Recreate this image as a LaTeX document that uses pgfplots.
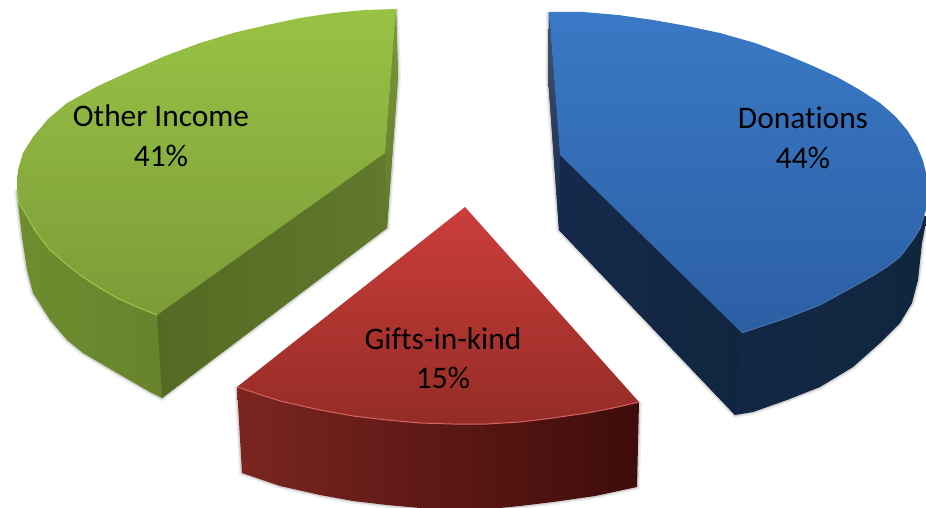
\documentclass[border=0pt]{standalone}
\usepackage{fontspec}
\setmainfont{Carlito}[Ligatures={NoCommon}]
\usepackage{pgfplots}
\usepackage{pgfplotstable}
\pgfplotsset{compat=1.18}

% outlines, in pixels
\pgfplotstableread{
x y
549 12
583 12
618 15
653 20
687 26
720 33
755 43
787 55
813 66
837 77
860 90
880 103
895 116
907 130
917 146
923 161
927 177
927 195
926 210
920 229
913 240
900 257
887 267
871 277
853 287
820 305
787 318
742 333
560 155
}\bluetop
\pgfplotstableread{
x y
549 12
548 77
559 230
735 415
753 412
787 400
820 387
853 367
880 343
900 323
912 303
918 280
922 243
927 217
}\blueside
\pgfplotstableread{
x y
560 155
742 333
735 415
559 230
}\blueinner
\pgfplotstableread{
x y
549 12
548 77
559 230
560 155
}\bluestrip
\pgfplotstableread{
x y
926 210
920 229
913 240
900 257
887 267
871 277
853 287
820 305
787 318
742 333
}\bluefront

\pgfplotstableread{
x y
396 9
365 10
333 13
300 18
267 25
233 33
200 43
165 56
133 70
98 86
67 103
48 119
33 137
23 153
18 170
17 190
19 203
25 213
36 232
50 250
66 264
83 277
100 288
117 298
137 307
157 315
385 153
}\greentop
\pgfplotstableread{
x y
396 9
398 77
387 228
162 398
150 392
117 373
83 353
67 340
50 320
33 293
27 270
22 237
18 203
17 190
}\greenside
\pgfplotstableread{
x y
385 153
157 315
162 398
387 228
}\greeninner
\pgfplotstableread{
x y
396 9
398 77
387 228
385 153
}\greenstrip
\pgfplotstableread{
x y
17 190
19 203
25 213
36 232
50 250
66 264
83 277
100 288
117 298
137 307
157 315
}\greenfront

\pgfplotstableread{
x y
465 207
639 402
613 408
587 413
553 418
520 422
487 424
453 424
420 423
387 420
353 416
320 410
280 401
237 387
}\redtop
\pgfplotstableread{
x y
237 387
242 473
280 486
320 495
353 501
387 505
420 508
453 510
490 509
520 506
553 502
595 496
637 487
639 402
}\redside
\pgfplotstableread{
x y
639 402
613 408
587 413
553 418
520 422
487 424
453 424
420 423
387 420
353 416
320 410
280 401
237 387
}\redfront

\definecolor{bluetopa}{HTML}{3A79C6}
\definecolor{bluetopb}{HTML}{2C5FA4}
\definecolor{bluesidea}{HTML}{16294B}
\definecolor{bluesideb}{HTML}{10263F}
\definecolor{greentopa}{HTML}{98C345}
\definecolor{greentopb}{HTML}{7B9B38}
\definecolor{greensidea}{HTML}{6E8D2E}
\definecolor{greensideb}{HTML}{5B7429}
\definecolor{greeninnera}{HTML}{546A22}
\definecolor{greeninnerb}{HTML}{60792C}
\definecolor{redtopa}{HTML}{CB3D3B}
\definecolor{redtopb}{HTML}{952C26}
\definecolor{redsidea}{HTML}{7B2520}
\definecolor{redsideb}{HTML}{3E0C0A}

\begin{document}
\begin{tikzpicture}
\path[use as bounding box] (0,0) rectangle (926bp,508bp);
\begin{axis}[
  at={(0,0)}, anchor=south west,
  hide axis,
  scale only axis,
  width=926bp, height=508bp,
  xmin=0, xmax=926, ymin=0, ymax=508,
  y dir=reverse,
  enlargelimits=false,
  every axis plot/.append style={no markers},
  nodes={font=\fontsize{31.5}{31.5}\selectfont, text=black},
]
% soft shadows under the slices
\addplot[black, opacity=.06, line width=6bp] table {\blueside};
\addplot[black, opacity=.12, line width=3bp] table {\blueside};
\addplot[black, opacity=.06, line width=6bp] table {\greenside};
\addplot[black, opacity=.12, line width=3bp] table {\greenside};
\addplot[black, opacity=.06, line width=6bp] table {\redside};
\addplot[black, opacity=.12, line width=3bp] table {\redside};

% Donations
\addplot[draw=none, left color=bluesidea, right color=bluesideb] table {\blueside} -- cycle;
\addplot[draw=none, left color=bluesidea, right color=bluesideb] table {\blueinner} -- cycle;
\addplot[draw=none, top color=bluesidea!80!white, bottom color=bluesidea] table {\bluestrip} -- cycle;
\addplot[draw=none, top color=bluetopa, bottom color=bluetopb] table {\bluetop} -- cycle;
\addplot[color=bluetopa!70!white, opacity=.5, line width=.8bp] table {\bluefront};

% Other Income
\addplot[draw=none, left color=greensidea, right color=greensideb] table {\greenside} -- cycle;
\addplot[draw=none, left color=greeninnera, right color=greeninnerb] table {\greeninner} -- cycle;
\addplot[draw=none, top color=greentopb, bottom color=greeninnerb] table {\greenstrip} -- cycle;
\addplot[draw=none, top color=greentopa, bottom color=greentopb] table {\greentop} -- cycle;
\addplot[color=greentopa, line width=1.2bp] table {\greenfront};

% Gifts-in-kind
\addplot[draw=none, left color=redsidea, right color=redsideb] table {\redside} -- cycle;
\addplot[draw=none, top color=redtopa, bottom color=redtopb] table {\redtop} -- cycle;
\addplot[color=redtopa!80!white, line width=1bp] table {\redfront};

\node at (axis cs:161,116) {Other Income};
\node at (axis cs:161,156) {41\%};
\node at (axis cs:803,118) {Donations};
\node at (axis cs:803,158) {44\%};
\node at (axis cs:443,339) {Gifts-in-kind};
\node at (axis cs:443,378) {15\%};
\end{axis}
\end{tikzpicture}
\end{document}
